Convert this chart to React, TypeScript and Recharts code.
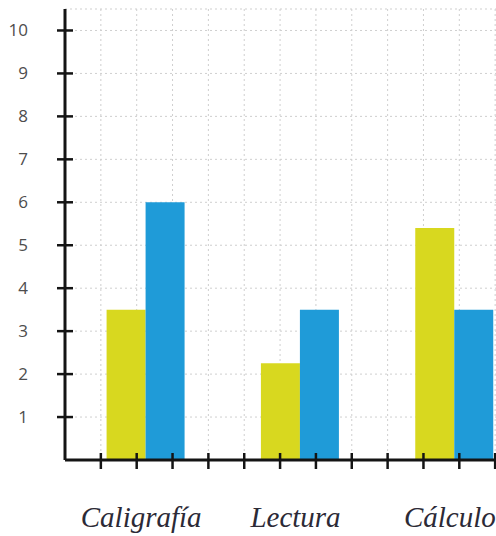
import React from 'react';
import { BarChart, Bar, XAxis, YAxis, CartesianGrid } from 'recharts';

// values
const categories = ['Caligrafía', 'Lectura', 'Cálculo'];
const yellowValues = [3.5, 2.25, 5.4];
const blueValues = [6, 3.5, 3.5];
const yTicks = [1, 2, 3, 4, 5, 6, 7, 8, 9, 10];
const gridTicks = [1, 2, 3, 4, 5, 6, 7, 8, 9, 10, 11, 12];

const data = categories.map((name, i) => ({
    name,
    yellow: yellowValues[i],
    blue: blueValues[i],
}));

const AXIS = '#141414';

// y tick: short line crossing the axis + number on the left
const YTick = (props: any) => {
    const { x, y, payload } = props;
    return (
        <g>
            <line x1={x - 8} x2={x + 8} y1={y} y2={y} stroke={AXIS} strokeWidth={2.5} />
            <text x={x - 37} y={y} dy={6} textAnchor="end" fontSize={17} fill="#4d4d4d" fontFamily="'Open Sans', sans-serif">
                {payload.value}
            </text>
        </g>
    );
};

// tick marks of the decorative grid axis (no labels)
const GridTick = (props: any) => {
    const { x, y } = props;
    return <line x1={x} x2={x} y1={y - 8} y2={y + 8} stroke={AXIS} strokeWidth={2.5} />;
};

const CatTick = (props: any) => {
    const { x, y, payload } = props;
    return (
        <text x={x - 4} y={y + 67} textAnchor="middle" fontSize={29} fontStyle="italic" fill="#2c2a36" fontFamily="'Liberation Serif', serif">
            {payload.value}
        </text>
    );
};

export default function App() {
    return (
        <div style={{ position: 'absolute', left: 0, top: 0, width: 496, height: 536, overflow: 'hidden', background: '#fff' }}>
            <BarChart
                width={531}
                height={536}
                data={data}
                margin={{ top: 9, right: 0, bottom: 74, left: 0 }}
                barCategoryGap="25%"
                barGap={0}
            >
                <CartesianGrid xAxisId="grid" stroke="#cfcfcf" strokeDasharray="2 3" />
                {/* both x axes 1px tall so they sit on the plot bottom in either order */}
                <XAxis
                    xAxisId="grid"
                    type="number"
                    dataKey={() => 0}
                    domain={[0, 13]}
                    allowDataOverflow
                    ticks={gridTicks}
                    interval={0}
                    height={1}
                    axisLine={false}
                    tickLine={false}
                    tickSize={0}
                    tickMargin={0}
                    tick={<GridTick />}
                />
                <XAxis
                    xAxisId="cat"
                    dataKey="name"
                    height={1}
                    padding={{ left: 3, right: 0 }}
                    axisLine={{ stroke: AXIS, strokeWidth: 3 }}
                    tickLine={false}
                    tickSize={0}
                    tickMargin={0}
                    interval={0}
                    tick={<CatTick />}
                />
                <YAxis
                    width={65}
                    domain={[0, 10.5]}
                    ticks={yTicks}
                    interval={0}
                    axisLine={{ stroke: AXIS, strokeWidth: 3 }}
                    tickLine={false}
                    tickSize={0}
                    tickMargin={0}
                    tick={<YTick />}
                />
                <Bar xAxisId="cat" dataKey="yellow" fill="#d8d81f" isAnimationActive={false} />
                <Bar xAxisId="cat" dataKey="blue" fill="#1f9bd8" isAnimationActive={false} />
            </BarChart>
        </div>
    );
}
